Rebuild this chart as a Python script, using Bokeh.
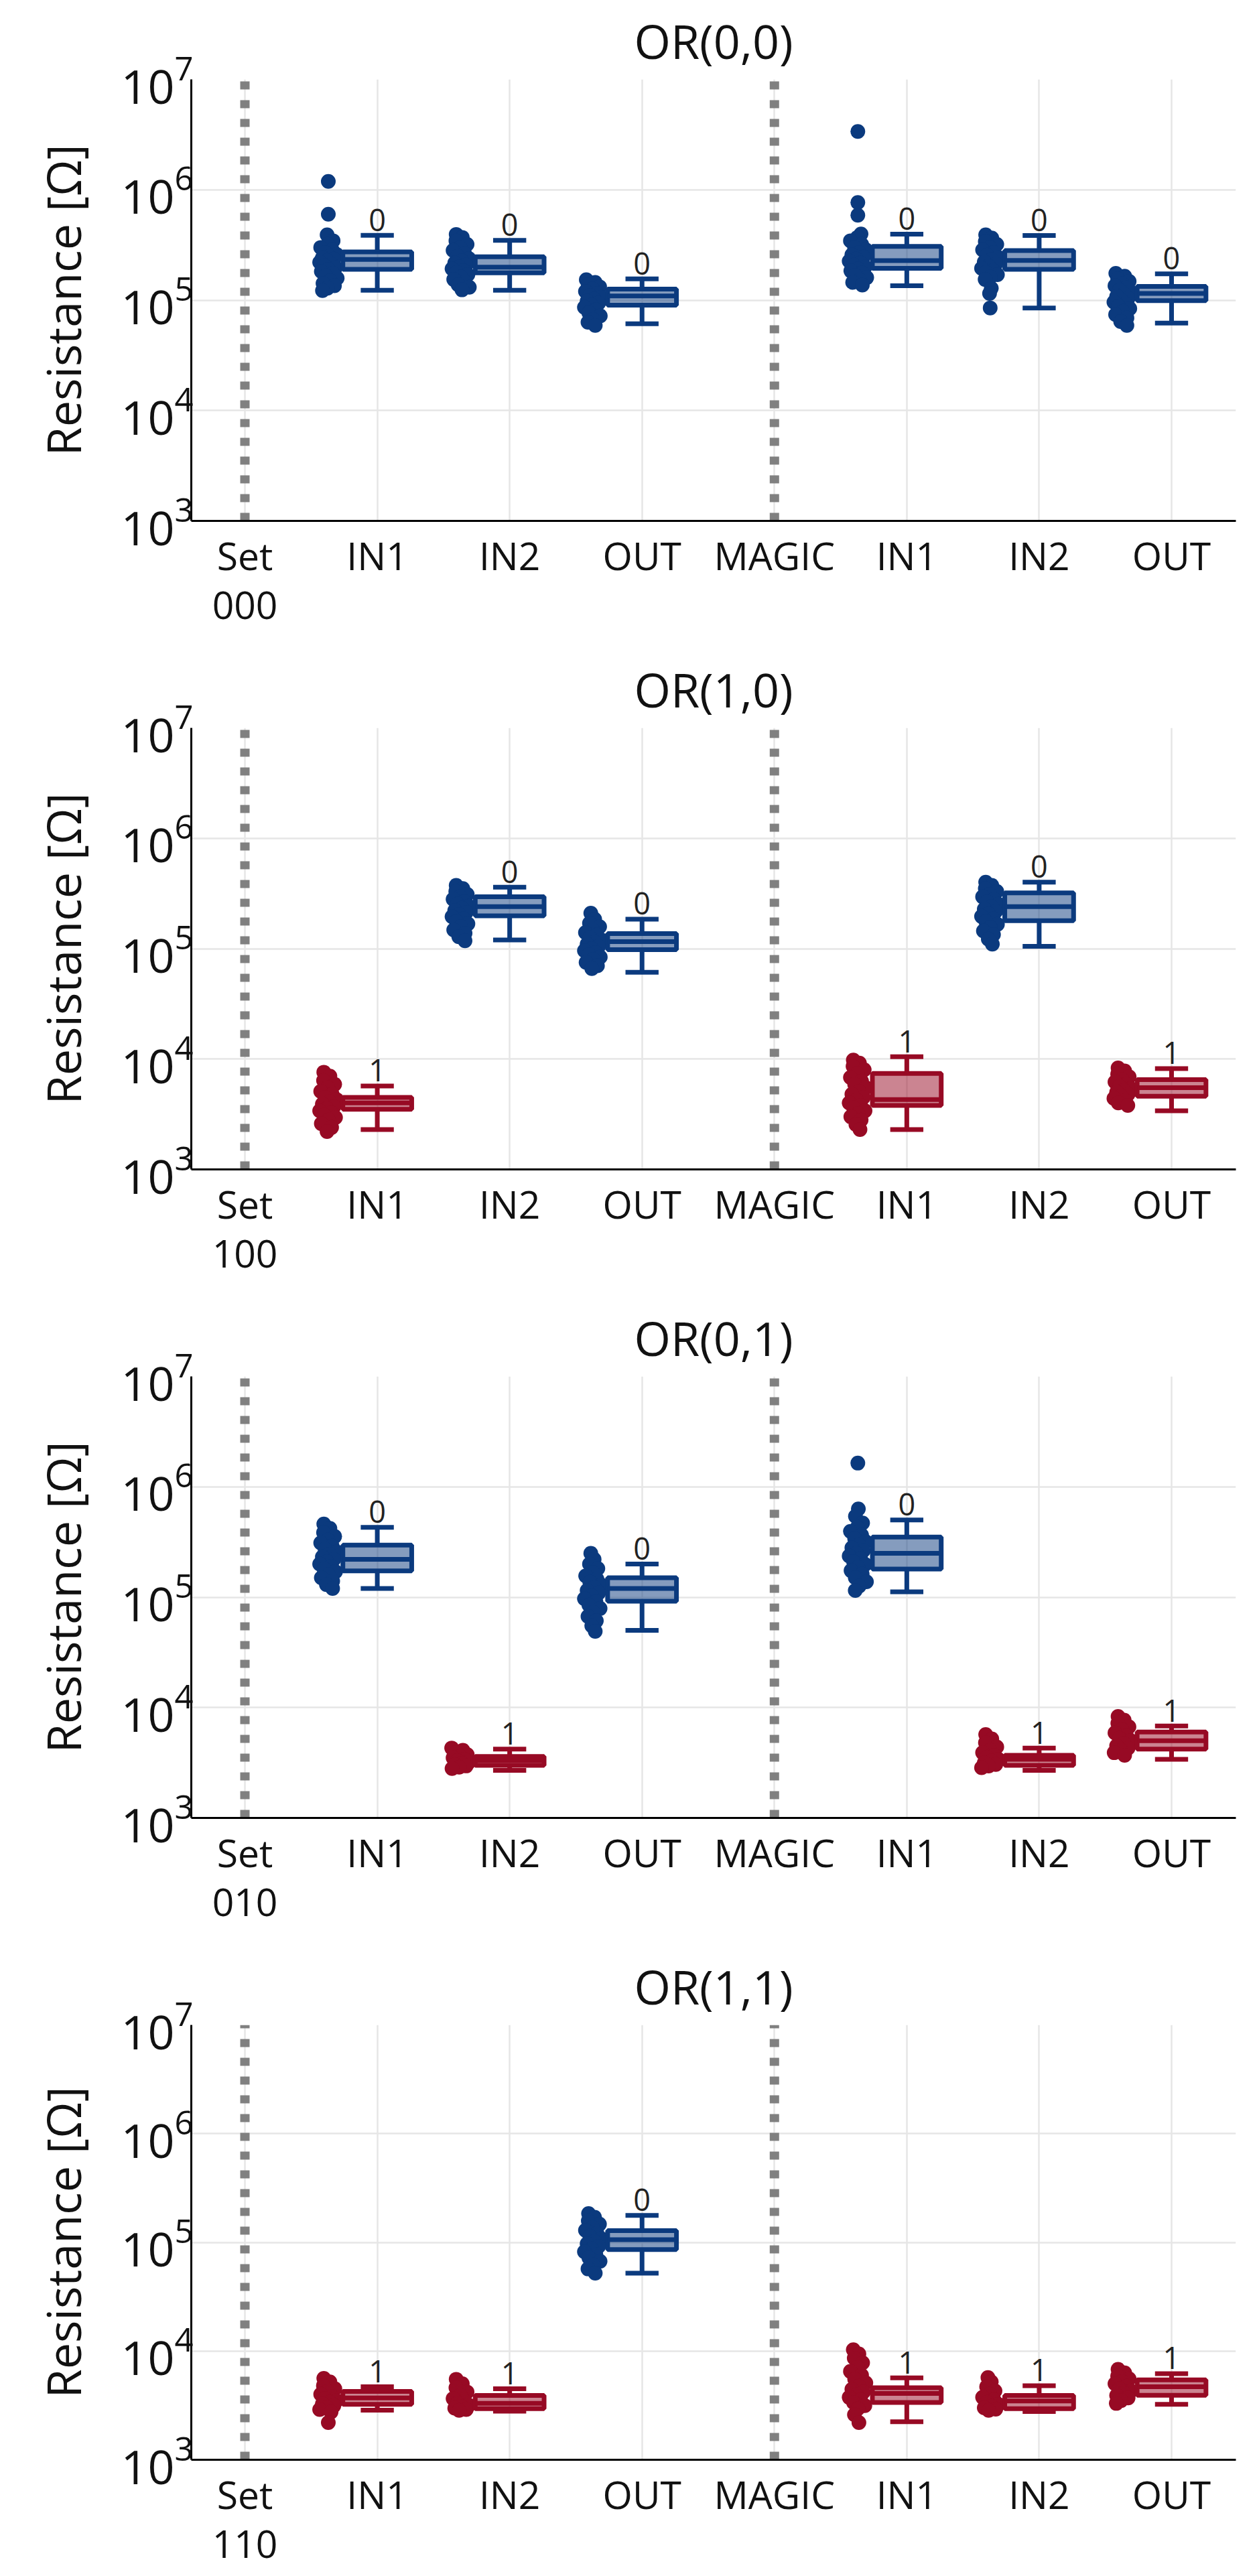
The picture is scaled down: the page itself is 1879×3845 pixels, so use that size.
import numpy as np
from bokeh.plotting import figure
from bokeh.layouts import column
from bokeh.models import FixedTicker, Range1d
from bokeh.core.properties import value
from bokeh.embed import file_html
from bokeh.resources import INLINE

# ---------------- data ----------------
titles = ["OR(0,0)", "OR(1,0)", "OR(0,1)", "OR(1,1)"]
set_labels = ["Set\n000", "Set\n100", "Set\n010", "Set\n110"]
tick_labels = ["IN1", "IN2", "OUT", "MAGIC", "IN1", "IN2", "OUT"]
group_slots = [1, 2, 3, 5, 6, 7]
separator_slots = [0, 4]

# OR(0,0)
or00_state = [0, 0, 0, 0, 0, 0]
or00_low = [1.23e5, 1.23e5, 6.1e4, 1.35e5, 8.5e4, 6.2e4]
or00_q1 = [1.90e5, 1.77e5, 9.0e4, 1.94e5, 1.90e5, 9.9e4]
or00_med = [2.34e5, 1.99e5, 1.09e5, 2.28e5, 2.29e5, 1.15e5]
or00_q3 = [2.74e5, 2.47e5, 1.26e5, 3.07e5, 2.81e5, 1.33e5]
or00_high = [3.87e5, 3.48e5, 1.56e5, 3.96e5, 3.85e5, 1.73e5]
or00_pts_in1 = [1.19e6, 6.0e5, 3.9e5, 3.45e5, 3.2e5, 3.0e5, 2.85e5, 2.7e5, 2.6e5, 2.5e5, 2.42e5, 2.35e5,
                2.28e5, 2.2e5, 2.12e5, 2.05e5, 1.97e5, 1.9e5, 1.82e5, 1.75e5, 1.66e5, 1.58e5, 1.5e5,
                1.42e5, 1.35e5, 1.28e5, 1.22e5]
or00_pts_in2 = [3.94e5, 3.7e5, 3.45e5, 3.2e5, 3.0e5, 2.82e5, 2.65e5, 2.5e5, 2.38e5, 2.27e5, 2.17e5, 2.08e5,
                2.0e5, 1.92e5, 1.85e5, 1.78e5, 1.7e5, 1.62e5, 1.54e5, 1.46e5, 1.38e5, 1.31e5, 1.24e5]
or00_pts_out = [1.53e5, 1.45e5, 1.38e5, 1.32e5, 1.26e5, 1.2e5, 1.15e5, 1.1e5, 1.06e5, 1.02e5, 9.8e4, 9.4e4,
                9.0e4, 8.6e4, 8.2e4, 7.7e4, 7.2e4, 6.7e4, 6.3e4, 5.9e4]
or00_pts_m_in1 = [3.37e6, 7.66e5, 5.88e5, 3.98e5, 3.7e5, 3.45e5, 3.2e5, 3.0e5, 2.85e5, 2.7e5, 2.58e5, 2.46e5,
                  2.36e5, 2.26e5, 2.17e5, 2.08e5, 2.0e5, 1.92e5, 1.84e5, 1.76e5, 1.68e5, 1.6e5, 1.52e5,
                  1.45e5, 1.37e5]
or00_pts_m_in2 = [3.9e5, 3.65e5, 3.4e5, 3.2e5, 3.0e5, 2.85e5, 2.7e5, 2.56e5, 2.44e5, 2.33e5, 2.22e5, 2.12e5,
                  2.03e5, 1.94e5, 1.86e5, 1.78e5, 1.7e5, 1.62e5, 1.54e5, 1.28e5, 1.15e5, 8.5e4]
or00_pts_m_out = [1.75e5, 1.65e5, 1.56e5, 1.48e5, 1.41e5, 1.35e5, 1.29e5, 1.23e5, 1.18e5, 1.13e5, 1.08e5,
                  1.04e5, 1.0e5, 9.6e4, 9.2e4, 8.8e4, 8.4e4, 7.9e4, 7.4e4, 6.9e4, 6.4e4, 5.9e4]

# OR(1,0)
or10_state = [1, 0, 0, 1, 0, 1]
or10_low = [2.3e3, 1.2e5, 6.1e4, 2.3e3, 1.05e5, 3.4e3]
or10_q1 = [3.5e3, 1.98e5, 9.8e4, 3.8e3, 1.79e5, 4.6e3]
or10_med = [4.0e3, 2.4e5, 1.16e5, 4.3e3, 2.4e5, 5.5e3]
or10_q3 = [4.5e3, 2.95e5, 1.37e5, 7.4e3, 3.2e5, 6.5e3]
or10_high = [5.7e3, 3.6e5, 1.85e5, 1.05e4, 4.0e5, 8.2e3]
or10_pts_in1 = [7.6e3, 7.0e3, 6.4e3, 5.9e3, 5.5e3, 5.1e3, 4.8e3, 4.5e3, 4.3e3, 4.1e3, 3.9e3, 3.7e3, 3.55e3,
                3.4e3, 3.25e3, 3.1e3, 2.95e3, 2.8e3, 2.6e3, 2.4e3, 2.2e3]
or10_pts_in2 = [3.75e5, 3.5e5, 3.3e5, 3.1e5, 2.95e5, 2.8e5, 2.66e5, 2.53e5, 2.42e5, 2.32e5, 2.22e5, 2.13e5,
                2.04e5, 1.95e5, 1.86e5, 1.77e5, 1.68e5, 1.58e5, 1.48e5, 1.38e5, 1.28e5, 1.18e5]
or10_pts_out = [2.1e5, 1.85e5, 1.7e5, 1.58e5, 1.48e5, 1.4e5, 1.33e5, 1.26e5, 1.2e5, 1.15e5, 1.1e5, 1.05e5,
                1.0e5, 9.6e4, 9.2e4, 8.8e4, 8.4e4, 8.0e4, 7.5e4, 7.0e4, 6.6e4]
or10_pts_m_in1 = [9.8e3, 9.2e3, 8.6e3, 8.0e3, 7.4e3, 6.8e3, 6.3e3, 5.9e3, 5.5e3, 5.1e3, 4.8e3, 4.5e3, 4.25e3,
                  4.0e3, 3.8e3, 3.6e3, 3.4e3, 3.2e3, 3.0e3, 2.8e3, 2.55e3, 2.3e3]
or10_pts_m_in2 = [4.0e5, 3.75e5, 3.5e5, 3.3e5, 3.1e5, 2.95e5, 2.8e5, 2.65e5, 2.52e5, 2.4e5, 2.28e5, 2.17e5,
                  2.06e5, 1.96e5, 1.86e5, 1.76e5, 1.66e5, 1.56e5, 1.45e5, 1.34e5, 1.22e5, 1.1e5]
or10_pts_m_out = [8.3e3, 7.8e3, 7.3e3, 6.9e3, 6.5e3, 6.2e3, 5.9e3, 5.65e3, 5.4e3, 5.2e3, 5.0e3, 4.8e3, 4.6e3,
                  4.4e3, 4.2e3, 4.0e3, 3.8e3]

# OR(0,1)
or01_state = [0, 1, 0, 0, 1, 1]
or01_low = [1.2e5, 2.7e3, 5.0e4, 1.12e5, 2.7e3, 3.4e3]
or01_q1 = [1.73e5, 3.0e3, 9.2e4, 1.8e5, 3.0e3, 4.2e3]
or01_med = [2.2e5, 3.3e3, 1.2e5, 2.5e5, 3.4e3, 5.0e3]
or01_q3 = [2.96e5, 3.6e3, 1.5e5, 3.5e5, 3.7e3, 6.0e3]
or01_high = [4.3e5, 4.2e3, 2.0e5, 5.0e5, 4.3e3, 6.8e3]
or01_pts_in1 = [4.6e5, 4.2e5, 3.85e5, 3.55e5, 3.3e5, 3.1e5, 2.9e5, 2.73e5, 2.58e5, 2.45e5, 2.32e5, 2.2e5,
                2.1e5, 2.0e5, 1.9e5, 1.8e5, 1.7e5, 1.6e5, 1.5e5, 1.4e5, 1.3e5, 1.2e5]
or01_pts_in2 = [4.3e3, 4.1e3, 3.9e3, 3.75e3, 3.6e3, 3.5e3, 3.4e3, 3.3e3, 3.2e3, 3.12e3, 3.04e3, 2.96e3,
                2.88e3, 2.8e3]
or01_pts_out = [2.5e5, 2.2e5, 2.0e5, 1.82e5, 1.68e5, 1.56e5, 1.46e5, 1.37e5, 1.29e5, 1.22e5, 1.15e5, 1.09e5,
                1.03e5, 9.7e4, 9.1e4, 8.5e4, 7.9e4, 7.3e4, 6.7e4, 6.1e4, 5.5e4, 4.9e4]
or01_pts_m_in1 = [1.64e6, 6.3e5, 5.4e5, 4.7e5, 4.3e5, 3.95e5, 3.65e5, 3.4e5, 3.18e5, 2.98e5, 2.8e5, 2.64e5,
                  2.5e5, 2.36e5, 2.23e5, 2.1e5, 1.98e5, 1.86e5, 1.74e5, 1.62e5, 1.5e5, 1.38e5, 1.26e5, 1.15e5]
or01_pts_m_in2 = [5.7e3, 5.2e3, 4.8e3, 4.4e3, 4.1e3, 3.9e3, 3.7e3, 3.55e3, 3.4e3, 3.28e3, 3.16e3, 3.05e3,
                  2.95e3, 2.85e3]
or01_pts_m_out = [8.3e3, 7.7e3, 7.2e3, 6.7e3, 6.3e3, 5.9e3, 5.55e3, 5.25e3, 5.0e3, 4.75e3, 4.5e3, 4.3e3,
                  4.1e3, 3.9e3, 3.7e3]

# OR(1,1)
or11_state = [1, 1, 0, 1, 1, 1]
or11_low = [2.86e3, 2.8e3, 5.2e4, 2.24e3, 2.78e3, 3.24e3]
or11_q1 = [3.24e3, 2.95e3, 8.6e4, 3.37e3, 2.95e3, 3.92e3]
or11_med = [3.7e3, 3.3e3, 1.06e5, 4.08e3, 3.47e3, 4.7e3]
or11_q3 = [4.26e3, 3.9e3, 1.28e5, 4.6e3, 3.9e3, 5.44e3]
or11_high = [4.7e3, 4.5e3, 1.77e5, 5.67e3, 4.8e3, 6.2e3]
or11_pts_in1 = [5.6e3, 5.2e3, 4.8e3, 4.5e3, 4.25e3, 4.0e3, 3.8e3, 3.65e3, 3.5e3, 3.38e3, 3.26e3, 3.14e3,
                3.02e3, 2.9e3, 2.75e3, 2.2e3]
or11_pts_in2 = [5.5e3, 5.0e3, 4.6e3, 4.2e3, 3.9e3, 3.65e3, 3.45e3, 3.3e3, 3.18e3, 3.07e3, 2.98e3, 2.9e3,
                2.85e3]
or11_pts_out = [1.84e5, 1.7e5, 1.58e5, 1.47e5, 1.37e5, 1.29e5, 1.21e5, 1.14e5, 1.08e5, 1.02e5, 9.7e4, 9.2e4,
                8.7e4, 8.2e4, 7.7e4, 7.2e4, 6.7e4, 6.2e4, 5.7e4, 5.2e4]
or11_pts_m_in1 = [1.03e4, 9.4e3, 8.6e3, 7.8e3, 7.1e3, 6.5e3, 6.0e3, 5.5e3, 5.1e3, 4.75e3, 4.45e3, 4.2e3,
                  3.95e3, 3.75e3, 3.55e3, 3.35e3, 3.15e3, 2.95e3, 2.6e3, 2.2e3]
or11_pts_m_in2 = [5.7e3, 5.2e3, 4.7e3, 4.3e3, 4.0e3, 3.75e3, 3.55e3, 3.38e3, 3.23e3, 3.1e3, 3.0e3, 2.92e3,
                  2.85e3]
or11_pts_m_out = [6.8e3, 6.3e3, 5.9e3, 5.55e3, 5.25e3, 5.0e3, 4.75e3, 4.5e3, 4.3e3, 4.1e3, 3.9e3, 3.7e3,
                  3.5e3, 3.3e3]

panels = [
    (or00_state, or00_low, or00_q1, or00_med, or00_q3, or00_high,
     [or00_pts_in1, or00_pts_in2, or00_pts_out, or00_pts_m_in1, or00_pts_m_in2, or00_pts_m_out]),
    (or10_state, or10_low, or10_q1, or10_med, or10_q3, or10_high,
     [or10_pts_in1, or10_pts_in2, or10_pts_out, or10_pts_m_in1, or10_pts_m_in2, or10_pts_m_out]),
    (or01_state, or01_low, or01_q1, or01_med, or01_q3, or01_high,
     [or01_pts_in1, or01_pts_in2, or01_pts_out, or01_pts_m_in1, or01_pts_m_in2, or01_pts_m_out]),
    (or11_state, or11_low, or11_q1, or11_med, or11_q3, or11_high,
     [or11_pts_in1, or11_pts_in2, or11_pts_out, or11_pts_m_in1, or11_pts_m_in2, or11_pts_m_out]),
]

# ---------------- style ----------------
FONT = "Open Sans"
BLUE = "#0b3a7e"
RED = "#970a24"
COLORS = {0: BLUE, 1: RED}
BOX_W = 0.52
CAP_W = 0.25
PT_SHIFT = -0.37
LW = 7


def jitter(vals):
    lv = np.log10(np.asarray(vals, dtype=float))
    offs = []
    for i, v in enumerate(lv):
        dens = int(np.sum(np.abs(lv - v) < 0.08))
        hw = min(0.07, 0.017 * (dens - 1))
        phase = ((i * 0.6180339887) % 1.0) * 2 - 1
        offs.append(phase * hw)
    return offs


def make_panel(k, height, bottom):
    state, low, q1, med, q3, high, pts = panels[k]
    p = figure(
        width=1863, height=height,
        y_axis_type="log",
        x_range=Range1d(-0.405, 7.486),
        y_range=Range1d(1e3, 1e7),
        output_backend="svg",
        toolbar_location=None,
        min_border_left=285,
        min_border_right=19,
        min_border_top=103,
        min_border_bottom=bottom,
    )
    p.outline_line_color = None

    p.title.text = titles[k]
    p.title.align = "center"
    p.title.text_font = FONT
    p.title.text_font_size = "70px"
    p.title.text_font_style = "normal"
    p.title.text_color = "#111111"
    p.title.standoff = 20

    # axes
    p.xaxis.ticker = FixedTicker(ticks=list(range(8)))
    overrides = {0: set_labels[k]}
    for i, lab in enumerate(tick_labels):
        overrides[i + 1] = lab
    p.xaxis.major_label_overrides = overrides
    p.yaxis.ticker = FixedTicker(ticks=[1e3, 1e4, 1e5, 1e6, 1e7])
    for ax in (p.xaxis, p.yaxis):
        ax.axis_line_color = "black"
        ax.axis_line_width = 3
        ax.major_tick_line_color = None
        ax.minor_tick_line_color = None
        ax.major_label_text_font = FONT
        ax.major_label_text_color = "#111111"
    p.xaxis.major_label_text_font_size = "57px"
    p.xaxis.major_label_text_line_height = 0.94
    p.xaxis.major_label_standoff = 6
    p.yaxis.major_label_text_font_size = "70px"
    p.yaxis.major_label_standoff = -9
    p.yaxis.axis_label = "Resistance [Ω]"
    p.yaxis.axis_label_text_font = FONT
    p.yaxis.axis_label_text_font_size = "70px"
    p.yaxis.axis_label_text_font_style = "normal"
    p.yaxis.axis_label_text_color = "#111111"
    p.yaxis.axis_label_standoff = 35

    p.xgrid.ticker = FixedTicker(ticks=list(range(8)))
    p.ygrid.ticker = FixedTicker(ticks=[1e3, 1e4, 1e5, 1e6, 1e7])
    for g in (p.xgrid, p.ygrid):
        g.grid_line_color = "#e6e6e6"
        g.grid_line_width = 2.5

    # separators (dotted)
    p.segment(x0=separator_slots, y0=[1e3] * len(separator_slots),
              x1=separator_slots, y1=[1e7] * len(separator_slots),
              line_color="#808080", line_width=14, line_dash="12 16", line_cap="butt")

    for j, pos in enumerate(group_slots):
        col = COLORS[state[j]]
        vals = pts[j]
        xs = [pos + PT_SHIFT + o for o in jitter(vals)]
        p.scatter(xs, vals, size=22, color=col, line_width=0)
        # box
        p.vbar(x=[pos], width=BOX_W, top=[q3[j]], bottom=[q1[j]],
               fill_color=col, fill_alpha=0.5, line_color=col, line_width=LW)
        p.segment(x0=[pos - BOX_W / 2], x1=[pos + BOX_W / 2], y0=[med[j]], y1=[med[j]],
                  line_color=col, line_width=LW)
        # whiskers
        p.segment(x0=[pos, pos], x1=[pos, pos], y0=[q3[j], q1[j]], y1=[high[j], low[j]],
                  line_color=col, line_width=LW)
        p.segment(x0=[pos - CAP_W / 2, pos - CAP_W / 2], x1=[pos + CAP_W / 2, pos + CAP_W / 2],
                  y0=[high[j], low[j]], y1=[high[j], low[j]], line_color=col, line_width=LW)
        p.text(x=[pos], y=[high[j]], text=[str(state[j])], text_align="center",
               text_baseline="alphabetic", y_offset=-23, text_font_size="45px",
               text_color="#222222", text_font=value(FONT))
    return p


H = 968
figs = [make_panel(0, H, H - 777), make_panel(1, H, H - 777), make_panel(2, H, H - 777),
        make_panel(3, 3837 - 3 * H, 3837 - 3 * H - 777)]
layout = column(*figs)

open("out.html", "w").write(file_html(layout, INLINE))
